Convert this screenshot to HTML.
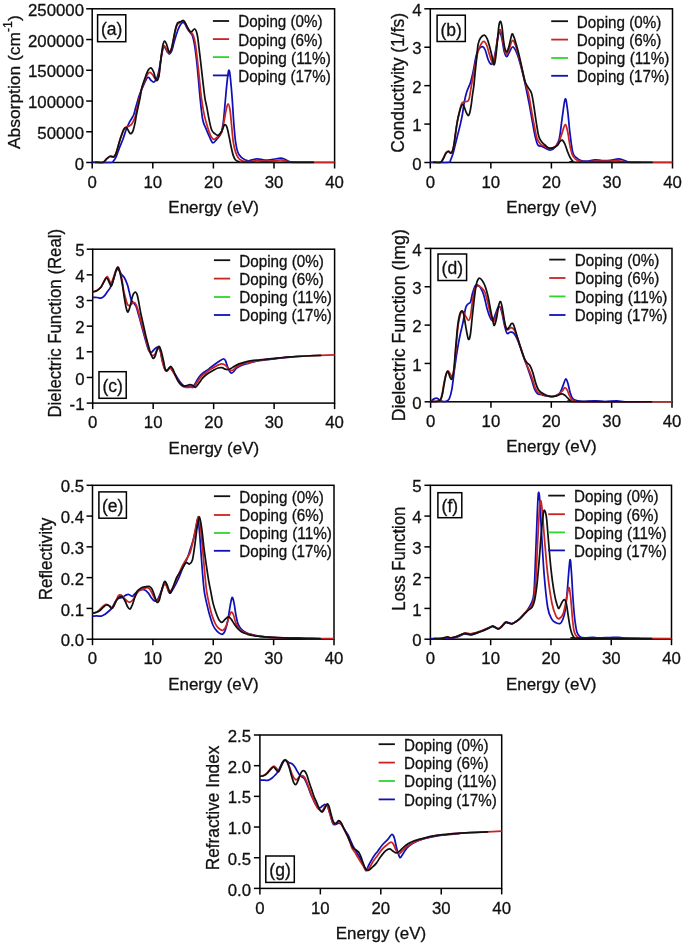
<!DOCTYPE html>
<html><head><meta charset="utf-8"><style>
html,body{margin:0;padding:0;background:#fff;width:685px;height:945px;overflow:hidden}
svg{display:block;will-change:transform;font-family:"Liberation Sans", sans-serif;fill:#000}
text{fill:#111;stroke:#111;stroke-width:0.3px}
</style></head><body>
<svg width="685" height="945" viewBox="0 0 685 945">
<rect width="100%" height="100%" fill="#fff"/>
<g><rect x="92.2" y="8.8" width="242.4" height="153.7" fill="none" stroke="#000" stroke-width="1.5"/><line x1="86.2" y1="162.5" x2="92.2" y2="162.5" stroke="#000" stroke-width="1.5"/><text x="84" y="169.6" text-anchor="end" font-size="16.8">0</text><line x1="86.2" y1="131.76" x2="92.2" y2="131.76" stroke="#000" stroke-width="1.5"/><text x="84" y="138.86" text-anchor="end" font-size="16.8">50000</text><line x1="86.2" y1="101.02" x2="92.2" y2="101.02" stroke="#000" stroke-width="1.5"/><text x="84" y="108.12" text-anchor="end" font-size="16.8">100000</text><line x1="86.2" y1="70.28" x2="92.2" y2="70.28" stroke="#000" stroke-width="1.5"/><text x="84" y="77.38" text-anchor="end" font-size="16.8">150000</text><line x1="86.2" y1="39.54" x2="92.2" y2="39.54" stroke="#000" stroke-width="1.5"/><text x="84" y="46.64" text-anchor="end" font-size="16.8">200000</text><line x1="86.2" y1="8.8" x2="92.2" y2="8.8" stroke="#000" stroke-width="1.5"/><text x="84" y="15.9" text-anchor="end" font-size="16.8">250000</text><line x1="92.2" y1="162.5" x2="92.2" y2="168.5" stroke="#000" stroke-width="1.5"/><text x="92.2" y="187.7" text-anchor="middle" font-size="16.8">0</text><line x1="152.8" y1="162.5" x2="152.8" y2="168.5" stroke="#000" stroke-width="1.5"/><text x="152.8" y="187.7" text-anchor="middle" font-size="16.8">10</text><line x1="213.4" y1="162.5" x2="213.4" y2="168.5" stroke="#000" stroke-width="1.5"/><text x="213.4" y="187.7" text-anchor="middle" font-size="16.8">20</text><line x1="274" y1="162.5" x2="274" y2="168.5" stroke="#000" stroke-width="1.5"/><text x="274" y="187.7" text-anchor="middle" font-size="16.8">30</text><line x1="334.6" y1="162.5" x2="334.6" y2="168.5" stroke="#000" stroke-width="1.5"/><text x="334.6" y="187.7" text-anchor="middle" font-size="16.8">40</text><clipPath id="clipa"><rect x="92.2" y="7.8" width="242.4" height="155.7"/></clipPath><g clip-path="url(#clipa)" fill="none" stroke-width="1.75" stroke-linejoin="round" stroke-linecap="round"><path d="M92.2 162.2C95.25 162.27 106.95 162.82 110.5 162.6C114.05 162.38 112.63 161.73 113.5 160.9C114.37 160.07 114.97 159.08 115.7 157.6C116.43 156.12 117.17 153.92 117.9 152C118.63 150.08 119.23 148.32 120.1 146.1C120.97 143.88 122.1 141.42 123.1 138.7C124.1 135.98 125.12 132.4 126.1 129.8C127.08 127.2 128.02 125.07 129 123.1C129.98 121.13 131.18 119.47 132 118C132.82 116.53 133.28 116.03 133.9 114.3C134.52 112.57 135.08 109.83 135.7 107.6C136.32 105.37 136.98 103 137.6 100.9C138.22 98.8 138.4 97.62 139.4 95C140.4 92.38 142.35 88.02 143.6 85.2C144.85 82.38 146.03 79.37 146.9 78.1C147.77 76.83 148.08 77.2 148.8 77.6C149.52 78 150.4 79.73 151.2 80.5C152 81.27 152.88 82.2 153.6 82.2C154.32 82.2 154.87 81.42 155.5 80.5C156.13 79.58 156.77 78.62 157.4 76.7C158.03 74.78 158.67 72.18 159.3 69C159.93 65.82 160.57 61.08 161.2 57.6C161.83 54.12 162.47 49.77 163.1 48.1C163.73 46.43 164.28 46.97 165 47.6C165.72 48.23 166.68 50.83 167.4 51.9C168.12 52.97 168.58 54.15 169.3 54C170.02 53.85 170.92 52.93 171.7 51C172.48 49.07 173.28 44.95 174 42.4C174.72 39.85 175.28 37.93 176 35.7C176.72 33.47 177.52 30.9 178.3 29C179.08 27.1 179.93 25.4 180.7 24.3C181.47 23.2 182.22 22.48 182.9 22.4C183.58 22.32 184.02 22.7 184.8 23.8C185.58 24.9 186.65 27.48 187.6 29C188.55 30.52 189.7 31.78 190.5 32.9C191.3 34.02 191.77 33.97 192.4 35.7C193.03 37.43 193.75 40.43 194.3 43.3C194.85 46.17 195.23 49.25 195.7 52.9C196.17 56.55 196.63 60.68 197.1 65.2C197.57 69.72 197.97 74.2 198.5 80C199.03 85.8 199.58 93.33 200.3 100C201.02 106.67 201.83 115.18 202.8 120C203.77 124.82 205 126.12 206.1 128.9C207.2 131.68 208.28 134.38 209.4 136.7C210.52 139.02 211.58 142.35 212.8 142.8C214.02 143.25 215.32 140.98 216.7 139.4C218.08 137.82 220 136.17 221.1 133.3C222.2 130.43 222.65 127.02 223.3 122.2C223.95 117.38 224.43 110.5 225 104.4C225.57 98.3 226.15 90.97 226.7 85.6C227.25 80.23 227.85 74.62 228.3 72.2C228.75 69.78 229.02 69.8 229.4 71.1C229.78 72.4 230.13 75.37 230.6 80C231.07 84.63 231.65 91.5 232.2 98.9C232.75 106.3 233.33 117.18 233.9 124.4C234.47 131.62 234.95 137.57 235.6 142.2C236.25 146.83 236.88 149.7 237.8 152.2C238.72 154.7 239.9 155.95 241.1 157.2C242.3 158.45 243.7 159.1 245 159.7C246.3 160.3 246.93 160.95 248.9 160.8C250.87 160.65 254.17 158.93 256.8 158.8C259.43 158.67 262.07 159.9 264.7 160C267.33 160.1 269.97 159.72 272.6 159.4C275.23 159.08 278.53 158.17 280.5 158.1C282.47 158.03 282.87 158.4 284.4 159C285.93 159.6 287.93 161.13 289.7 161.7C291.47 162.27 291.12 162.28 295 162.4C298.88 162.52 310 162.4 313 162.4" stroke="#1010b8"/><path d="M95.6 162.4C96.85 162.4 101.23 163.03 103.1 162.4C104.97 161.77 105.57 159.65 106.8 158.6C108.03 157.55 109.38 156.45 110.5 156.1C111.62 155.75 112.63 156.85 113.5 156.5C114.37 156.15 115.02 155.37 115.7 154C116.38 152.63 116.98 150.35 117.6 148.3C118.22 146.25 118.73 143.92 119.4 141.7C120.07 139.48 120.85 137.12 121.6 135C122.35 132.88 123.1 130.35 123.9 129C124.7 127.65 125.55 127.38 126.4 126.9C127.25 126.42 128.18 126.48 129 126.1C129.82 125.72 130.55 125.47 131.3 124.6C132.05 123.73 132.83 122.25 133.5 120.9C134.17 119.55 134.82 118.1 135.3 116.5C135.78 114.9 135.97 113.28 136.4 111.3C136.83 109.32 137.33 107.07 137.9 104.6C138.47 102.13 139.12 99.27 139.8 96.5C140.48 93.73 141.05 90.98 142 88C142.95 85.02 144.52 80.97 145.5 78.6C146.48 76.23 147.15 74.83 147.9 73.8C148.65 72.77 149.22 72.23 150 72.4C150.78 72.57 151.77 73.77 152.6 74.8C153.43 75.83 154.28 77.73 155 78.6C155.72 79.47 156.27 80.48 156.9 80C157.53 79.52 158.17 78.95 158.8 75.7C159.43 72.45 160.07 64.95 160.7 60.5C161.33 56.05 162 51.47 162.6 49C163.2 46.53 163.67 45.7 164.3 45.7C164.93 45.7 165.73 47.88 166.4 49C167.07 50.12 167.67 51.83 168.3 52.4C168.93 52.97 169.57 53.43 170.2 52.4C170.83 51.37 171.47 48.82 172.1 46.2C172.73 43.58 173.35 39.72 174 36.7C174.65 33.68 175.35 30.25 176 28.1C176.65 25.95 177.12 24.78 177.9 23.8C178.68 22.82 179.8 22.75 180.7 22.2C181.6 21.65 182.55 20.37 183.3 20.5C184.05 20.63 184.48 21.73 185.2 23C185.92 24.27 186.8 26.65 187.6 28.1C188.4 29.55 189.2 30.75 190 31.7C190.8 32.65 191.68 32.65 192.4 33.8C193.12 34.95 193.75 36.53 194.3 38.6C194.85 40.67 195.23 43.03 195.7 46.2C196.17 49.37 196.62 53.47 197.1 57.6C197.58 61.73 198.12 66.4 198.6 71C199.08 75.6 199.48 80.37 200 85.2C200.52 90.03 200.97 94.93 201.7 100C202.43 105.07 203.38 110.97 204.4 115.6C205.42 120.23 206.77 124.47 207.8 127.8C208.83 131.13 209.58 133.67 210.6 135.6C211.62 137.53 212.7 139.22 213.9 139.4C215.1 139.58 216.5 137.9 217.8 136.7C219.1 135.5 220.68 134.62 221.7 132.2C222.72 129.78 223.17 125.9 223.9 122.2C224.63 118.5 225.4 113.05 226.1 110C226.8 106.95 227.45 103.9 228.1 103.9C228.75 103.9 229.4 106.2 230 110C230.6 113.8 231.15 121.33 231.7 126.7C232.25 132.07 232.65 137.95 233.3 142.2C233.95 146.45 234.77 149.6 235.6 152.2C236.43 154.8 237.28 156.4 238.3 157.8C239.32 159.2 240.4 159.95 241.7 160.6C243 161.25 244.25 161.58 246.1 161.7C247.95 161.82 251.02 161.52 252.8 161.3C254.58 161.08 254.82 160.42 256.8 160.4C258.78 160.38 262.07 161.13 264.7 161.2C267.33 161.27 269.97 161 272.6 160.8C275.23 160.6 278.53 160.05 280.5 160C282.47 159.95 282.87 160.18 284.4 160.5C285.93 160.82 287.1 161.58 289.7 161.9C292.3 162.22 292.28 162.32 300 162.4C307.72 162.48 330 162.4 336 162.4" stroke="#c82424"/><path d="M95.6 162.4C96.85 162.4 101.23 163.02 103.1 162.4C104.97 161.78 105.68 159.68 106.8 158.7C107.92 157.72 108.87 156.8 109.8 156.5C110.73 156.2 111.67 156.83 112.4 156.9C113.13 156.97 113.65 157.33 114.2 156.9C114.75 156.47 115.13 155.73 115.7 154.3C116.27 152.87 116.98 150.4 117.6 148.3C118.22 146.2 118.73 143.92 119.4 141.7C120.07 139.48 120.85 137.05 121.6 135C122.35 132.95 123.15 130.63 123.9 129.4C124.65 128.17 125.43 127.53 126.1 127.6C126.77 127.67 127.28 128.88 127.9 129.8C128.52 130.72 129.23 132.48 129.8 133.1C130.37 133.72 130.75 133.92 131.3 133.5C131.85 133.08 132.48 132.33 133.1 130.6C133.72 128.87 134.45 125.7 135 123.1C135.55 120.5 135.85 117.85 136.4 115C136.95 112.15 137.68 108.92 138.3 106C138.92 103.08 139.53 100.48 140.1 97.5C140.67 94.52 140.8 91.57 141.7 88.1C142.6 84.63 144.4 79.72 145.5 76.7C146.6 73.68 147.38 71.47 148.3 70C149.22 68.53 150.12 67.58 151 67.9C151.88 68.22 152.85 70.12 153.6 71.9C154.35 73.68 154.92 77.17 155.5 78.6C156.08 80.03 156.55 80.82 157.1 80.5C157.65 80.18 158.28 79.25 158.8 76.7C159.32 74.15 159.72 69.17 160.2 65.2C160.68 61.23 161.22 56.38 161.7 52.9C162.18 49.42 162.6 46.28 163.1 44.3C163.6 42.32 164.15 41.08 164.7 41C165.25 40.92 165.8 42.3 166.4 43.8C167 45.3 167.73 48.57 168.3 50C168.87 51.43 169.23 52.72 169.8 52.4C170.37 52.08 171.07 50.4 171.7 48.1C172.33 45.8 172.97 41.78 173.6 38.6C174.23 35.42 174.87 31.55 175.5 29C176.13 26.45 176.62 24.48 177.4 23.3C178.18 22.12 179.22 22.33 180.2 21.9C181.18 21.47 182.47 20.53 183.3 20.7C184.13 20.87 184.48 21.75 185.2 22.9C185.92 24.05 186.8 26.18 187.6 27.6C188.4 29.02 189.28 30.77 190 31.4C190.72 32.03 191.18 31.8 191.9 31.4C192.62 31 193.58 29.07 194.3 29C195.02 28.93 195.65 29.72 196.2 31C196.75 32.28 197.13 33.85 197.6 36.7C198.07 39.55 198.52 44.13 199 48.1C199.48 52.07 200.02 56.37 200.5 60.5C200.98 64.63 201.43 68.78 201.9 72.9C202.37 77.02 202.78 80.92 203.3 85.2C203.82 89.48 204.43 95.02 205 98.6C205.57 102.18 205.97 102.95 206.7 106.7C207.43 110.45 208.57 117.22 209.4 121.1C210.23 124.98 210.87 127.97 211.7 130C212.53 132.03 213.3 132.42 214.4 133.3C215.5 134.18 217.08 135.67 218.3 135.3C219.52 134.93 220.68 132.82 221.7 131.1C222.72 129.38 223.57 125.73 224.4 125C225.23 124.27 225.95 124.93 226.7 126.7C227.45 128.47 228.17 132.27 228.9 135.6C229.63 138.93 230.37 143.37 231.1 146.7C231.83 150.03 232.55 153.38 233.3 155.6C234.05 157.82 234.67 158.98 235.6 160C236.53 161.02 237.33 161.32 238.9 161.7C240.47 162.08 232.6 162.18 245 162.3C257.4 162.42 301.92 162.38 313.3 162.4" stroke="#111111"/></g><text x="213.6" y="213" text-anchor="middle" font-size="17" textLength="90.5" lengthAdjust="spacingAndGlyphs">Energy (eV)</text><text transform="translate(20.3 82.15) rotate(-90)" text-anchor="middle" font-size="17.4"><tspan>Absorption (cm</tspan><tspan dy="-8.5" font-size="12.4">-1</tspan><tspan dy="8.5">)</tspan></text><line x1="212.9" y1="21" x2="229.1" y2="21" stroke="#111111" stroke-width="1.8"/><text x="238.2" y="27.4" font-size="16" textLength="84.4" lengthAdjust="spacingAndGlyphs">Doping (0%)</text><line x1="212.9" y1="39.1" x2="229.1" y2="39.1" stroke="#c82424" stroke-width="1.8"/><text x="238.2" y="45.5" font-size="16" textLength="84.4" lengthAdjust="spacingAndGlyphs">Doping (6%)</text><line x1="212.9" y1="57.1" x2="229.1" y2="57.1" stroke="#30d430" stroke-width="1.8"/><text x="238.2" y="63.5" font-size="16" textLength="92.6" lengthAdjust="spacingAndGlyphs">Doping (11%)</text><line x1="212.9" y1="75.4" x2="229.1" y2="75.4" stroke="#1010b8" stroke-width="1.8"/><text x="238.2" y="81.8" font-size="16" textLength="92.6" lengthAdjust="spacingAndGlyphs">Doping (17%)</text><rect x="97.6" y="14.8" width="28.2" height="26.9" fill="#fff" stroke="#000" stroke-width="1.5"/><text x="111.7" y="35.45" text-anchor="middle" font-size="17.5">(a)</text></g>
<g><rect x="430.3" y="8.8" width="242.2" height="153.7" fill="none" stroke="#000" stroke-width="1.5"/><line x1="424.3" y1="162.5" x2="430.3" y2="162.5" stroke="#000" stroke-width="1.5"/><text x="421.6" y="169.6" text-anchor="end" font-size="16.8">0</text><line x1="424.3" y1="124.08" x2="430.3" y2="124.08" stroke="#000" stroke-width="1.5"/><text x="421.6" y="131.18" text-anchor="end" font-size="16.8">1</text><line x1="424.3" y1="85.65" x2="430.3" y2="85.65" stroke="#000" stroke-width="1.5"/><text x="421.6" y="92.75" text-anchor="end" font-size="16.8">2</text><line x1="424.3" y1="47.23" x2="430.3" y2="47.23" stroke="#000" stroke-width="1.5"/><text x="421.6" y="54.33" text-anchor="end" font-size="16.8">3</text><line x1="424.3" y1="8.8" x2="430.3" y2="8.8" stroke="#000" stroke-width="1.5"/><text x="421.6" y="15.9" text-anchor="end" font-size="16.8">4</text><line x1="430.3" y1="162.5" x2="430.3" y2="168.5" stroke="#000" stroke-width="1.5"/><text x="430.3" y="187.7" text-anchor="middle" font-size="16.8">0</text><line x1="490.85" y1="162.5" x2="490.85" y2="168.5" stroke="#000" stroke-width="1.5"/><text x="490.85" y="187.7" text-anchor="middle" font-size="16.8">10</text><line x1="551.4" y1="162.5" x2="551.4" y2="168.5" stroke="#000" stroke-width="1.5"/><text x="551.4" y="187.7" text-anchor="middle" font-size="16.8">20</text><line x1="611.95" y1="162.5" x2="611.95" y2="168.5" stroke="#000" stroke-width="1.5"/><text x="611.95" y="187.7" text-anchor="middle" font-size="16.8">30</text><line x1="672.5" y1="162.5" x2="672.5" y2="168.5" stroke="#000" stroke-width="1.5"/><text x="672.5" y="187.7" text-anchor="middle" font-size="16.8">40</text><clipPath id="clipb"><rect x="430.3" y="7.8" width="242.2" height="155.7"/></clipPath><g clip-path="url(#clipb)" fill="none" stroke-width="1.75" stroke-linejoin="round" stroke-linecap="round"><path d="M430.3 162.4C433.3 162.4 444.92 162.83 448.3 162.4C451.68 161.97 449.82 161.28 450.6 159.8C451.38 158.32 452.2 156.13 453 153.5C453.8 150.87 454.6 147.18 455.4 144C456.2 140.82 457 137.58 457.8 134.4C458.6 131.22 459.42 128.33 460.2 124.9C460.98 121.47 461.82 117.62 462.5 113.8C463.18 109.98 463.6 105.65 464.3 102C465 98.35 465.67 95.17 466.7 91.9C467.73 88.63 469.4 85.88 470.5 82.4C471.6 78.92 472.35 75.45 473.3 71C474.25 66.55 475.25 59.37 476.2 55.7C477.15 52.03 477.97 50.5 479 49C480.03 47.5 481.37 46.53 482.4 46.7C483.43 46.87 484.25 47.87 485.2 50C486.15 52.13 487.22 57.2 488.1 59.5C488.98 61.8 489.7 63.23 490.5 63.8C491.3 64.37 492.12 64.72 492.9 62.9C493.68 61.08 494.42 56.95 495.2 52.9C495.98 48.85 496.88 42.1 497.6 38.6C498.32 35.1 498.78 31.9 499.5 31.9C500.22 31.9 501.1 35.27 501.9 38.6C502.7 41.93 503.5 48.88 504.3 51.9C505.1 54.92 505.92 56.53 506.7 56.7C507.48 56.87 508.02 54.52 509 52.9C509.98 51.28 511.37 47.13 512.6 47C513.83 46.87 515.17 49.45 516.4 52.1C517.63 54.75 518.8 58.73 520 62.9C521.2 67.07 522.53 72.58 523.6 77.1C524.67 81.62 525.45 85.47 526.4 90C527.35 94.53 528.35 99.3 529.3 104.3C530.25 109.3 531.15 114.77 532.1 120C533.05 125.23 534.03 131.53 535 135.7C535.97 139.87 536.72 143.22 537.9 145C539.08 146.78 540.68 145.8 542.1 146.4C543.52 147 544.97 148 546.4 148.6C547.83 149.2 549.15 150.37 550.7 150C552.25 149.63 554.27 148.3 555.7 146.4C557.13 144.5 558.23 143.23 559.3 138.6C560.37 133.97 561.12 125.2 562.1 118.6C563.08 112 564.28 100.37 565.2 99C566.12 97.63 566.82 104.8 567.6 110.4C568.38 116 569.03 125.6 569.9 132.6C570.77 139.6 571.72 148.22 572.8 152.4C573.88 156.58 575.03 156.33 576.4 157.7C577.77 159.07 579.25 160.02 581 160.6C582.75 161.18 584.57 161.33 586.9 161.2C589.23 161.07 592.48 159.9 595 159.8C597.52 159.7 599.47 160.5 602 160.6C604.53 160.7 607.47 160.7 610.2 160.4C612.93 160.1 616.25 158.87 618.4 158.8C620.55 158.73 621.55 159.5 623.1 160C624.65 160.5 626.15 161.42 627.7 161.8C629.25 162.18 630.35 162.2 632.4 162.3C634.45 162.4 638.73 162.38 640 162.4" stroke="#1010b8"/><path d="M433.6 162.4C434.72 162.4 438.78 162.9 440.3 162.4C441.82 161.9 441.77 161.02 442.7 159.4C443.63 157.78 444.97 154.1 445.9 152.7C446.83 151.3 447.52 151 448.3 151C449.08 151 449.95 152.6 450.6 152.7C451.25 152.8 451.67 152.78 452.2 151.6C452.73 150.42 453.27 148.47 453.8 145.6C454.33 142.73 454.87 138.12 455.4 134.4C455.93 130.68 456.4 126.73 457 123.3C457.6 119.87 458.22 117.1 459 113.8C459.78 110.5 460.85 105.48 461.7 103.5C462.55 101.52 463.3 102.23 464.1 101.9C464.9 101.57 465.7 101.9 466.5 101.5C467.3 101.1 468.15 101.73 468.9 99.5C469.65 97.27 470.27 92.22 471 88.1C471.73 83.98 472.52 79.08 473.3 74.8C474.08 70.52 474.98 66.05 475.7 62.4C476.42 58.75 476.8 55.77 477.6 52.9C478.4 50.03 479.47 47.12 480.5 45.2C481.53 43.28 482.77 41.4 483.8 41.4C484.83 41.4 485.83 43.28 486.7 45.2C487.57 47.12 488.22 50.35 489 52.9C489.78 55.45 490.68 58.77 491.4 60.5C492.12 62.23 492.58 64.57 493.3 63.3C494.02 62.03 494.98 57.02 495.7 52.9C496.42 48.78 496.97 42.42 497.6 38.6C498.23 34.78 498.93 31.12 499.5 30C500.07 28.88 500.43 30 501 31.9C501.57 33.8 502.2 38.07 502.9 41.4C503.6 44.73 504.5 49.83 505.2 51.9C505.9 53.97 506.38 54.43 507.1 53.8C507.82 53.17 508.62 50.32 509.5 48.1C510.38 45.88 511.37 40.9 512.4 40.5C513.43 40.1 514.55 42.68 515.7 45.7C516.85 48.72 518.1 54.07 519.3 58.6C520.5 63.13 521.83 68.62 522.9 72.9C523.97 77.18 524.75 80.73 525.7 84.3C526.65 87.87 527.65 90.02 528.6 94.3C529.55 98.58 530.45 104.77 531.4 110C532.35 115.23 533.35 120.93 534.3 125.7C535.25 130.47 536.03 135.5 537.1 138.6C538.17 141.7 539.38 143 540.7 144.3C542.02 145.6 543.57 145.68 545 146.4C546.43 147.12 547.75 148.48 549.3 148.6C550.85 148.72 552.75 148.05 554.3 147.1C555.85 146.15 557.3 145.27 558.6 142.9C559.9 140.53 561 135.95 562.1 132.9C563.2 129.85 564.28 124.85 565.2 124.6C566.12 124.35 566.82 127.93 567.6 131.4C568.38 134.87 569.12 141.52 569.9 145.4C570.68 149.28 571.42 152.47 572.3 154.7C573.18 156.93 573.93 157.72 575.2 158.8C576.47 159.88 578.15 160.7 579.9 161.2C581.65 161.7 583.18 161.8 585.7 161.8C588.22 161.8 591.12 161.3 595 161.2C598.88 161.1 605.5 161.3 609 161.2C612.5 161.1 613.27 160.5 616 160.6C618.73 160.7 623.07 161.52 625.4 161.8C627.73 162.08 621.9 162.2 630 162.3C638.1 162.4 666.67 162.38 674 162.4" stroke="#c82424"/><path d="M433.6 162.4C434.72 162.4 438.78 162.83 440.3 162.4C441.82 161.97 441.77 161.28 442.7 159.8C443.63 158.32 444.97 154.88 445.9 153.5C446.83 152.12 447.52 151.57 448.3 151.5C449.08 151.43 449.95 153.03 450.6 153.1C451.25 153.17 451.67 153.15 452.2 151.9C452.73 150.65 453.27 148.52 453.8 145.6C454.33 142.68 454.87 138.12 455.4 134.4C455.93 130.68 456.4 126.73 457 123.3C457.6 119.87 458.33 116.57 459 113.8C459.67 111.03 460.42 108.28 461 106.7C461.58 105.12 461.98 104.3 462.5 104.3C463.02 104.3 463.5 105.38 464.1 106.7C464.7 108.02 465.43 110.72 466.1 112.2C466.77 113.68 467.5 115.47 468.1 115.6C468.7 115.73 469.17 114.88 469.7 113C470.23 111.12 470.83 107.33 471.3 104.3C471.77 101.27 472.08 97.82 472.5 94.8C472.92 91.78 473.35 90.02 473.8 86.2C474.25 82.38 474.72 76.67 475.2 71.9C475.68 67.13 476.22 62.2 476.7 57.6C477.18 53 477.47 47.55 478.1 44.3C478.73 41.05 479.47 39.62 480.5 38.1C481.53 36.58 483.2 35.12 484.3 35.2C485.4 35.28 486.23 36.77 487.1 38.6C487.97 40.43 488.7 43.35 489.5 46.2C490.3 49.05 491.18 52.6 491.9 55.7C492.62 58.8 493.17 64.48 493.8 64.8C494.43 65.12 495.07 61.97 495.7 57.6C496.33 53.23 497.05 44 497.6 38.6C498.15 33.2 498.52 28.07 499 25.2C499.48 22.33 500.02 21.23 500.5 21.4C500.98 21.57 501.43 23.33 501.9 26.2C502.37 29.07 502.82 34.95 503.3 38.6C503.78 42.25 504.23 45.88 504.8 48.1C505.37 50.32 506 52.22 506.7 51.9C507.4 51.58 508.13 49.13 509 46.2C509.87 43.27 511.1 35.88 511.9 34.3C512.7 32.72 513.08 35.03 513.8 36.7C514.52 38.37 515.37 41.42 516.2 44.3C517.03 47.18 517.82 49.95 518.8 54C519.78 58.05 521.07 64.03 522.1 68.6C523.13 73.17 524.03 78.32 525 81.4C525.97 84.48 526.83 85.18 527.9 87.1C528.97 89.02 530.45 90.03 531.4 92.9C532.35 95.77 532.88 100.02 533.6 104.3C534.32 108.58 534.87 113.37 535.7 118.6C536.53 123.83 537.65 131.9 538.6 135.7C539.55 139.5 540.33 139.85 541.4 141.4C542.47 142.95 543.8 143.92 545 145C546.2 146.08 547.28 147.42 548.6 147.9C549.92 148.38 551.48 148.27 552.9 147.9C554.32 147.53 555.92 146.77 557.1 145.7C558.28 144.63 559.13 142.43 560 141.5C560.87 140.57 561.52 139.75 562.3 140.1C563.08 140.45 563.92 141.93 564.7 143.6C565.48 145.27 566.13 147.85 567 150.1C567.87 152.35 568.93 155.25 569.9 157.1C570.87 158.95 571.72 160.33 572.8 161.2C573.88 162.07 563.2 162.1 576.4 162.3C589.6 162.5 639.4 162.38 652 162.4" stroke="#111111"/></g><text x="551.6" y="213" text-anchor="middle" font-size="17" textLength="90.5" lengthAdjust="spacingAndGlyphs">Energy (eV)</text><text transform="translate(404.3 82.85) rotate(-90)" text-anchor="middle" font-size="17.5" textLength="139.8" lengthAdjust="spacingAndGlyphs">Conductivity (1/fs)</text><line x1="551.2" y1="21.2" x2="568" y2="21.2" stroke="#111111" stroke-width="1.8"/><text x="576.8" y="27.6" font-size="16" textLength="84.4" lengthAdjust="spacingAndGlyphs">Doping (0%)</text><line x1="551.2" y1="39.6" x2="568" y2="39.6" stroke="#c82424" stroke-width="1.8"/><text x="576.8" y="46" font-size="16" textLength="84.4" lengthAdjust="spacingAndGlyphs">Doping (6%)</text><line x1="551.2" y1="58" x2="568" y2="58" stroke="#30d430" stroke-width="1.8"/><text x="576.8" y="64.4" font-size="16" textLength="92.6" lengthAdjust="spacingAndGlyphs">Doping (11%)</text><line x1="551.2" y1="75.8" x2="568" y2="75.8" stroke="#1010b8" stroke-width="1.8"/><text x="576.8" y="82.2" font-size="16" textLength="92.6" lengthAdjust="spacingAndGlyphs">Doping (17%)</text><rect x="437.1" y="15.2" width="28.2" height="26.3" fill="#fff" stroke="#000" stroke-width="1.5"/><text x="451.2" y="35.55" text-anchor="middle" font-size="17.5">(b)</text></g>
<g><rect x="92.7" y="249.2" width="241.9" height="153.9" fill="none" stroke="#000" stroke-width="1.5"/><line x1="86.7" y1="403.1" x2="92.7" y2="403.1" stroke="#000" stroke-width="1.5"/><text x="84.5" y="410.2" text-anchor="end" font-size="16.8">-1</text><line x1="86.7" y1="377.45" x2="92.7" y2="377.45" stroke="#000" stroke-width="1.5"/><text x="84.5" y="384.55" text-anchor="end" font-size="16.8">0</text><line x1="86.7" y1="351.8" x2="92.7" y2="351.8" stroke="#000" stroke-width="1.5"/><text x="84.5" y="358.9" text-anchor="end" font-size="16.8">1</text><line x1="86.7" y1="326.15" x2="92.7" y2="326.15" stroke="#000" stroke-width="1.5"/><text x="84.5" y="333.25" text-anchor="end" font-size="16.8">2</text><line x1="86.7" y1="300.5" x2="92.7" y2="300.5" stroke="#000" stroke-width="1.5"/><text x="84.5" y="307.6" text-anchor="end" font-size="16.8">3</text><line x1="86.7" y1="274.85" x2="92.7" y2="274.85" stroke="#000" stroke-width="1.5"/><text x="84.5" y="281.95" text-anchor="end" font-size="16.8">4</text><line x1="86.7" y1="249.2" x2="92.7" y2="249.2" stroke="#000" stroke-width="1.5"/><text x="84.5" y="256.3" text-anchor="end" font-size="16.8">5</text><line x1="92.7" y1="403.1" x2="92.7" y2="409.1" stroke="#000" stroke-width="1.5"/><text x="92.7" y="428.3" text-anchor="middle" font-size="16.8">0</text><line x1="153.18" y1="403.1" x2="153.18" y2="409.1" stroke="#000" stroke-width="1.5"/><text x="153.18" y="428.3" text-anchor="middle" font-size="16.8">10</text><line x1="213.65" y1="403.1" x2="213.65" y2="409.1" stroke="#000" stroke-width="1.5"/><text x="213.65" y="428.3" text-anchor="middle" font-size="16.8">20</text><line x1="274.12" y1="403.1" x2="274.12" y2="409.1" stroke="#000" stroke-width="1.5"/><text x="274.12" y="428.3" text-anchor="middle" font-size="16.8">30</text><line x1="334.6" y1="403.1" x2="334.6" y2="409.1" stroke="#000" stroke-width="1.5"/><text x="334.6" y="428.3" text-anchor="middle" font-size="16.8">40</text><clipPath id="clipc"><rect x="92.7" y="248.2" width="241.9" height="155.9"/></clipPath><g clip-path="url(#clipc)" fill="none" stroke-width="1.75" stroke-linejoin="round" stroke-linecap="round"><path d="M92.7 297.5C93.43 297.5 95.73 297.4 97.1 297.5C98.47 297.6 99.73 298.32 100.9 298.1C102.07 297.88 103.03 297.25 104.1 296.2C105.17 295.15 106.25 293.28 107.3 291.8C108.35 290.32 109.35 289.42 110.4 287.3C111.45 285.18 112.63 281.95 113.6 279.1C114.57 276.25 115.35 271.72 116.2 270.2C117.05 268.68 117.87 269.37 118.7 270C119.53 270.63 120.25 272.7 121.2 274C122.15 275.3 123.35 275.97 124.4 277.8C125.45 279.63 126.7 282.67 127.5 285C128.3 287.33 128.55 289.25 129.2 291.8C129.85 294.35 130.68 298.47 131.4 300.3C132.12 302.13 132.73 301.82 133.5 302.8C134.27 303.78 135.15 304.22 136 306.2C136.85 308.18 137.75 311.73 138.6 314.7C139.45 317.67 140.27 320.9 141.1 324C141.93 327.1 142.75 330.2 143.6 333.3C144.45 336.4 145.35 339.77 146.2 342.6C147.05 345.43 147.85 348.67 148.7 350.3C149.55 351.93 150.38 352.55 151.3 352.4C152.22 352.25 153.28 350.25 154.2 349.4C155.12 348.55 156.02 347.52 156.8 347.3C157.58 347.08 158.27 347.32 158.9 348.1C159.53 348.88 160.03 349.97 160.6 352C161.17 354.03 161.57 357.47 162.3 360.3C163.03 363.13 164.12 367.4 165 369C165.88 370.6 166.73 370.12 167.6 369.9C168.47 369.68 169.25 367.4 170.2 367.7C171.15 368 172.2 370.17 173.3 371.7C174.4 373.23 175.63 375.15 176.8 376.9C177.97 378.65 179.13 380.73 180.3 382.2C181.47 383.67 182.63 384.97 183.8 385.7C184.97 386.43 186.13 386.5 187.3 386.6C188.47 386.7 189.77 386.38 190.8 386.3C191.83 386.22 192.57 386.92 193.5 386.1C194.43 385.28 195.43 382.97 196.4 381.4C197.37 379.83 198.23 378.07 199.3 376.7C200.37 375.33 201.23 374.47 202.8 373.2C204.37 371.93 206.75 370.55 208.7 369.1C210.65 367.65 212.55 365.95 214.5 364.5C216.45 363.05 218.83 361.32 220.4 360.4C221.97 359.48 223.03 358.9 223.9 359C224.77 359.1 225.02 359.8 225.6 361C226.18 362.2 226.72 364.45 227.4 366.2C228.08 367.95 229.02 370.33 229.7 371.5C230.38 372.67 230.82 373.2 231.5 373.2C232.18 373.2 232.93 372.37 233.8 371.5C234.67 370.63 235.23 369.08 236.7 368C238.17 366.92 240.65 365.78 242.6 365C244.55 364.22 246.47 363.85 248.4 363.3C250.33 362.75 252.27 362.17 254.2 361.7C256.13 361.23 257.08 360.93 260 360.5C262.92 360.07 266.7 359.65 271.7 359.1C276.7 358.55 286.95 357.52 290 357.2" stroke="#1010b8"/><path d="M92.7 292C93.43 291.75 95.73 291.28 97.1 290.5C98.47 289.72 99.73 288.88 100.9 287.3C102.07 285.72 103.08 282.8 104.1 281C105.12 279.2 106.15 276.67 107 276.5C107.85 276.33 108.52 278.83 109.2 280C109.88 281.17 110.37 284 111.1 283.5C111.83 283 112.75 279.33 113.6 277C114.45 274.67 115.45 271.17 116.2 269.5C116.95 267.83 117.47 266.58 118.1 267C118.73 267.42 119.37 269.98 120 272C120.63 274.02 121.32 276.1 121.9 279.1C122.48 282.1 122.98 287.18 123.5 290C124.02 292.82 124.33 293.58 125 296C125.67 298.42 126.65 302.95 127.5 304.5C128.35 306.05 129.17 305.58 130.1 305.3C131.03 305.02 132.25 303.15 133.1 302.8C133.95 302.45 134.5 302.35 135.2 303.2C135.9 304.05 136.6 305.85 137.3 307.9C138 309.95 138.63 312.68 139.4 315.5C140.17 318.32 141.05 321.68 141.9 324.8C142.75 327.92 143.65 331.08 144.5 334.2C145.35 337.32 146.15 340.55 147 343.5C147.85 346.45 148.75 349.93 149.6 351.9C150.45 353.87 151.25 354.87 152.1 355.3C152.95 355.73 153.92 355.33 154.7 354.5C155.48 353.67 156.1 351.43 156.8 350.3C157.5 349.17 158.27 347.42 158.9 347.7C159.53 347.98 160.03 349.75 160.6 352C161.17 354.25 161.57 358.22 162.3 361.2C163.03 364.18 164.18 368.3 165 369.9C165.82 371.5 166.4 371.17 167.2 370.8C168 370.43 168.93 367.7 169.8 367.7C170.67 367.7 171.38 369.27 172.4 370.8C173.42 372.33 174.73 374.85 175.9 376.9C177.07 378.95 178.23 381.48 179.4 383.1C180.57 384.72 181.73 385.88 182.9 386.6C184.07 387.32 185.08 387.3 186.4 387.4C187.72 387.5 189.62 387.23 190.8 387.2C191.98 387.17 192.47 387.97 193.5 387.2C194.53 386.43 195.83 384.25 197 382.6C198.17 380.95 199.13 378.87 200.5 377.3C201.87 375.73 203.45 374.57 205.2 373.2C206.95 371.83 209.05 370.37 211 369.1C212.95 367.83 215.15 366.47 216.9 365.6C218.65 364.73 220.15 364 221.5 363.9C222.85 363.8 224.02 364.42 225 365C225.98 365.58 226.52 366.52 227.4 367.4C228.28 368.28 229.43 369.82 230.3 370.3C231.17 370.78 231.53 370.88 232.6 370.3C233.67 369.72 235.03 367.87 236.7 366.8C238.37 365.73 240.65 364.57 242.6 363.9C244.55 363.23 246.5 363.22 248.4 362.8C250.3 362.38 252.07 361.82 254 361.4C255.93 360.98 257.05 360.72 260 360.3C262.95 359.88 267.8 359.37 271.7 358.9C275.6 358.43 279.52 357.87 283.4 357.5C287.28 357.13 291.12 356.95 295 356.7C298.88 356.45 302.42 356.22 306.7 356C310.98 355.78 315.82 355.6 320.7 355.4C325.58 355.2 333.45 354.9 336 354.8" stroke="#c82424"/><path d="M92.7 292C93.43 291.75 95.73 291.28 97.1 290.5C98.47 289.72 99.73 288.78 100.9 287.3C102.07 285.82 103.15 283.18 104.1 281.6C105.05 280.02 105.75 277.7 106.6 277.8C107.45 277.9 108.42 280.82 109.2 282.2C109.98 283.58 110.57 286.62 111.3 286.1C112.03 285.58 112.78 281.75 113.6 279.1C114.42 276.45 115.45 272.12 116.2 270.2C116.95 268.28 117.47 267.18 118.1 267.6C118.73 268.02 119.27 269.73 120 272.7C120.73 275.67 121.77 281.17 122.5 285.4C123.23 289.63 123.77 294.28 124.4 298.1C125.03 301.92 125.7 305.97 126.3 308.3C126.9 310.63 127.37 312.45 128 312.1C128.63 311.75 129.33 308.88 130.1 306.2C130.87 303.52 131.75 298.33 132.6 296C133.45 293.67 134.42 292.33 135.2 292.2C135.98 292.07 136.67 293.3 137.3 295.2C137.93 297.1 138.43 300.63 139 303.6C139.57 306.57 140.13 310.17 140.7 313C141.27 315.83 141.83 318.07 142.4 320.6C142.97 323.13 143.47 325.38 144.1 328.2C144.73 331.02 145.5 334.67 146.2 337.5C146.9 340.33 147.6 342.65 148.3 345.2C149 347.75 149.62 350.62 150.4 352.8C151.18 354.98 152.22 357.73 153 358.3C153.78 358.87 154.4 357.68 155.1 356.2C155.8 354.72 156.5 351.03 157.2 349.4C157.9 347.77 158.6 345.97 159.3 346.4C160 346.83 160.68 349.52 161.4 352C162.12 354.48 163 358.55 163.6 361.3C164.2 364.05 164.52 366.88 165 368.5C165.48 370.12 165.92 370.92 166.5 371C167.08 371.08 167.8 369.77 168.5 369C169.2 368.23 169.98 366.4 170.7 366.4C171.42 366.4 172.08 367.68 172.8 369C173.52 370.32 174.18 372.4 175 374.3C175.82 376.2 176.82 378.8 177.7 380.4C178.58 382 179.35 382.95 180.3 383.9C181.25 384.85 182.38 385.8 183.4 386.1C184.42 386.4 185.32 385.95 186.4 385.7C187.48 385.45 188.87 384.67 189.9 384.6C190.93 384.53 191.67 384.87 192.6 385.3C193.53 385.73 194.38 387.65 195.5 387.2C196.62 386.75 198.08 384.15 199.3 382.6C200.52 381.05 201.43 379.37 202.8 377.9C204.17 376.43 205.73 375.07 207.5 373.8C209.27 372.53 211.65 371.27 213.4 370.3C215.15 369.33 216.55 368.45 218 368C219.45 367.55 220.93 367.42 222.1 367.6C223.27 367.78 224.02 368.78 225 369.1C225.98 369.42 227.02 369.6 228 369.5C228.98 369.4 229.83 369.05 230.9 368.5C231.97 367.95 233.05 366.97 234.4 366.2C235.75 365.43 237.25 364.58 239 363.9C240.75 363.22 242.75 362.65 244.9 362.1C247.05 361.55 249.38 360.97 251.9 360.6C254.42 360.23 256.7 360.22 260 359.9C263.3 359.58 267.8 359.1 271.7 358.7C275.6 358.3 279.52 357.83 283.4 357.5C287.28 357.17 291.12 356.95 295 356.7C298.88 356.45 302.42 356.22 306.7 356C310.98 355.78 318.37 355.5 320.7 355.4" stroke="#111111"/></g><text x="213.85" y="453.6" text-anchor="middle" font-size="17" textLength="90.5" lengthAdjust="spacingAndGlyphs">Energy (eV)</text><text transform="translate(60.5 323.2) rotate(-90)" text-anchor="middle" font-size="17.5" textLength="188.7" lengthAdjust="spacingAndGlyphs">Dielectric Function (Real)</text><line x1="213.9" y1="260.2" x2="230.2" y2="260.2" stroke="#111111" stroke-width="1.8"/><text x="239.3" y="266.6" font-size="16" textLength="84.4" lengthAdjust="spacingAndGlyphs">Doping (0%)</text><line x1="213.9" y1="278.6" x2="230.2" y2="278.6" stroke="#c82424" stroke-width="1.8"/><text x="239.3" y="285" font-size="16" textLength="84.4" lengthAdjust="spacingAndGlyphs">Doping (6%)</text><line x1="213.9" y1="297" x2="230.2" y2="297" stroke="#30d430" stroke-width="1.8"/><text x="239.3" y="303.4" font-size="16" textLength="92.6" lengthAdjust="spacingAndGlyphs">Doping (11%)</text><line x1="213.9" y1="315" x2="230.2" y2="315" stroke="#1010b8" stroke-width="1.8"/><text x="239.3" y="321.4" font-size="16" textLength="92.6" lengthAdjust="spacingAndGlyphs">Doping (17%)</text><rect x="99" y="371.7" width="27.2" height="26.6" fill="#fff" stroke="#000" stroke-width="1.5"/><text x="112.6" y="392.2" text-anchor="middle" font-size="17.5">(c)</text></g>
<g><rect x="430.6" y="248.4" width="241.4" height="153.4" fill="none" stroke="#000" stroke-width="1.5"/><line x1="424.6" y1="401.8" x2="430.6" y2="401.8" stroke="#000" stroke-width="1.5"/><text x="421.6" y="408.9" text-anchor="end" font-size="16.8">0</text><line x1="424.6" y1="363.45" x2="430.6" y2="363.45" stroke="#000" stroke-width="1.5"/><text x="421.6" y="370.55" text-anchor="end" font-size="16.8">1</text><line x1="424.6" y1="325.1" x2="430.6" y2="325.1" stroke="#000" stroke-width="1.5"/><text x="421.6" y="332.2" text-anchor="end" font-size="16.8">2</text><line x1="424.6" y1="286.75" x2="430.6" y2="286.75" stroke="#000" stroke-width="1.5"/><text x="421.6" y="293.85" text-anchor="end" font-size="16.8">3</text><line x1="424.6" y1="248.4" x2="430.6" y2="248.4" stroke="#000" stroke-width="1.5"/><text x="421.6" y="255.5" text-anchor="end" font-size="16.8">4</text><line x1="430.6" y1="401.8" x2="430.6" y2="407.8" stroke="#000" stroke-width="1.5"/><text x="430.6" y="427" text-anchor="middle" font-size="16.8">0</text><line x1="490.95" y1="401.8" x2="490.95" y2="407.8" stroke="#000" stroke-width="1.5"/><text x="490.95" y="427" text-anchor="middle" font-size="16.8">10</text><line x1="551.3" y1="401.8" x2="551.3" y2="407.8" stroke="#000" stroke-width="1.5"/><text x="551.3" y="427" text-anchor="middle" font-size="16.8">20</text><line x1="611.65" y1="401.8" x2="611.65" y2="407.8" stroke="#000" stroke-width="1.5"/><text x="611.65" y="427" text-anchor="middle" font-size="16.8">30</text><line x1="672" y1="401.8" x2="672" y2="407.8" stroke="#000" stroke-width="1.5"/><text x="672" y="427" text-anchor="middle" font-size="16.8">40</text><clipPath id="clipd"><rect x="430.6" y="247.4" width="241.4" height="155.4"/></clipPath><g clip-path="url(#clipd)" fill="none" stroke-width="1.75" stroke-linejoin="round" stroke-linecap="round"><path d="M430.6 401.6C431.17 401.15 432.88 399.45 434 398.9C435.12 398.35 436.2 397.97 437.3 398.3C438.4 398.63 439.17 400.4 440.6 400.9C442.03 401.4 444.47 401.63 445.9 401.3C447.33 400.97 448.22 400.83 449.2 398.9C450.18 396.97 450.93 394.53 451.8 389.7C452.67 384.87 453.52 376.28 454.4 369.9C455.28 363.52 456.22 356.92 457.1 351.4C457.98 345.88 458.72 341.65 459.7 336.8C460.68 331.95 462 327.13 463 322.3C464 317.47 464.82 310.88 465.7 307.8C466.58 304.72 467.5 304.77 468.3 303.8C469.1 302.83 469.78 303.78 470.5 302C471.22 300.22 471.8 295.82 472.6 293.1C473.4 290.38 474.42 287.02 475.3 285.7C476.18 284.38 477.02 284.85 477.9 285.2C478.78 285.55 479.62 286.13 480.6 287.8C481.58 289.47 482.75 291.85 483.8 295.2C484.85 298.55 485.85 304.2 486.9 307.9C487.95 311.6 489.12 315.28 490.1 317.4C491.08 319.52 491.92 321.12 492.8 320.6C493.68 320.08 494.53 316.5 495.4 314.3C496.27 312.1 497.2 308.55 498 307.4C498.8 306.25 499.48 306.25 500.2 307.4C500.92 308.55 501.6 311.4 502.3 314.3C503 317.2 503.62 321.63 504.4 324.8C505.18 327.97 506.03 332.07 507 333.3C507.97 334.53 509.12 332.28 510.2 332.2C511.28 332.12 512.37 331.72 513.5 332.8C514.63 333.88 515.73 335.97 517 338.7C518.27 341.43 519.83 345.7 521.1 349.2C522.37 352.7 523.43 356.38 524.6 359.7C525.77 363.02 526.93 365.78 528.1 369.1C529.27 372.42 530.53 376.3 531.6 379.6C532.67 382.9 533.53 386.57 534.5 388.9C535.47 391.23 536.23 392.63 537.4 393.6C538.57 394.57 540.03 394.32 541.5 394.7C542.97 395.08 544.45 395.6 546.2 395.9C547.95 396.2 550.25 396.6 552 396.5C553.75 396.4 555.33 395.98 556.7 395.3C558.07 394.62 559.13 394.05 560.2 392.4C561.27 390.75 562.18 387.63 563.1 385.4C564.02 383.17 564.92 379.38 565.7 379C566.48 378.62 567.07 380.87 567.8 383.1C568.53 385.33 569.32 389.88 570.1 392.4C570.88 394.92 571.42 396.83 572.5 398.2C573.58 399.57 574.95 400.07 576.6 400.6C578.25 401.13 579.33 401.37 582.4 401.4C585.47 401.43 591.23 400.78 595 400.8C598.77 400.82 601.33 401.5 605 401.5C608.67 401.5 613.67 400.75 617 400.8C620.33 400.85 621.17 401.63 625 401.8C628.83 401.97 637.5 401.8 640 401.8" stroke="#1010b8"/><path d="M430.6 401.6C432.05 401.48 437.42 402 439.3 400.9C441.18 399.8 441.03 398.42 441.9 395C442.77 391.58 443.52 384.37 444.5 380.4C445.48 376.43 446.8 372.18 447.8 371.2C448.8 370.22 449.72 373.62 450.5 374.5C451.28 375.38 451.85 377.72 452.5 376.5C453.15 375.28 453.75 372.72 454.4 367.2C455.05 361.68 455.73 350.67 456.4 343.4C457.07 336.13 457.52 328.98 458.4 323.6C459.28 318.22 460.6 312.53 461.7 311.1C462.8 309.67 463.9 313.47 465 315C466.1 316.53 467.38 320.13 468.3 320.3C469.22 320.47 469.78 319.3 470.5 316C471.22 312.7 471.8 305.2 472.6 300.5C473.4 295.8 474.32 290.18 475.3 287.8C476.28 285.42 477.45 286.2 478.5 286.2C479.55 286.2 480.55 286.83 481.6 287.8C482.65 288.77 483.82 289.7 484.8 292C485.78 294.3 486.53 297.88 487.5 301.6C488.47 305.32 489.63 310.95 490.6 314.3C491.57 317.65 492.42 321.35 493.3 321.7C494.18 322.05 495.12 318.52 495.9 316.4C496.68 314.28 497.28 310.58 498 309C498.72 307.42 499.48 306.38 500.2 306.9C500.92 307.42 501.6 309.47 502.3 312.1C503 314.73 503.62 319.78 504.4 322.7C505.18 325.62 506.12 328.63 507 329.6C507.88 330.57 508.95 328.83 509.7 328.5C510.45 328.17 510.67 327.27 511.5 327.6C512.33 327.93 513.58 328.45 514.7 330.5C515.82 332.55 517.03 336.58 518.2 339.9C519.37 343.22 520.53 346.9 521.7 350.4C522.87 353.9 524.03 357.78 525.2 360.9C526.37 364.02 527.53 366.18 528.7 369.1C529.87 372.02 531.13 375.3 532.2 378.4C533.27 381.5 534.13 385.37 535.1 387.7C536.07 390.03 536.83 391.32 538 392.4C539.17 393.48 540.53 393.62 542.1 394.2C543.67 394.78 545.55 395.52 547.4 395.9C549.25 396.28 551.45 396.7 553.2 396.5C554.95 396.3 556.43 395.58 557.9 394.7C559.37 393.82 560.83 392.37 562 391.2C563.17 390.03 564.03 387.88 564.9 387.7C565.77 387.52 566.42 388.73 567.2 390.1C567.98 391.47 568.82 394.35 569.6 395.9C570.38 397.45 570.93 398.52 571.9 399.4C572.87 400.28 573.65 400.8 575.4 401.2C577.15 401.6 565.97 401.7 582.4 401.8C598.83 401.9 658.73 401.8 674 401.8" stroke="#c82424"/><path d="M430.6 401.6C432.05 401.48 437.42 401.78 439.3 400.9C441.18 400.02 441.13 398.83 441.9 396.3C442.67 393.77 443.23 389.23 443.9 385.7C444.57 382.17 445.25 377.52 445.9 375.1C446.55 372.68 447.15 370.97 447.8 371.2C448.45 371.43 449.13 375.18 449.8 376.5C450.47 377.82 451.13 380.2 451.8 379.1C452.47 378 453.13 375.4 453.8 369.9C454.47 364.4 455.13 353.6 455.8 346.1C456.47 338.6 457.15 330.18 457.8 324.9C458.45 319.62 459.05 316.7 459.7 314.4C460.35 312.1 461.03 311.1 461.7 311.1C462.37 311.1 463.03 311.87 463.7 314.4C464.37 316.93 464.93 322.2 465.7 326.3C466.47 330.4 467.53 337.55 468.3 339C469.07 340.45 469.67 338.42 470.3 335C470.93 331.58 471.45 324.43 472.1 318.5C472.75 312.57 473.5 305.05 474.2 299.4C474.9 293.75 475.5 288.12 476.3 284.6C477.1 281.08 478.02 279 479 278.3C479.98 277.6 481.15 279 482.2 280.4C483.25 281.8 484.33 284.05 485.3 286.7C486.27 289.35 487.12 292.42 488 296.3C488.88 300.18 489.8 305.95 490.6 310C491.4 314.05 492.18 318.03 492.8 320.6C493.42 323.17 493.68 325.75 494.3 325.4C494.92 325.05 495.78 321.77 496.5 318.5C497.22 315.23 497.93 308.62 498.6 305.8C499.27 302.98 499.88 301.25 500.5 301.6C501.12 301.95 501.65 304.73 502.3 307.9C502.95 311.07 503.7 317.07 504.4 320.6C505.1 324.13 505.7 328.03 506.5 329.1C507.3 330.17 508.37 327.92 509.2 327C510.03 326.08 510.78 323.98 511.5 323.6C512.22 323.22 512.68 322.97 513.5 324.7C514.32 326.43 515.33 330.5 516.4 334C517.47 337.5 518.73 342 519.9 345.7C521.07 349.4 522.32 353.48 523.4 356.2C524.48 358.92 525.32 360.45 526.4 362C527.48 363.55 528.83 363.73 529.9 365.5C530.97 367.27 531.83 369.67 532.8 372.6C533.77 375.53 534.73 380.18 535.7 383.1C536.67 386.02 537.53 388.45 538.6 390.1C539.67 391.75 540.83 392.13 542.1 393C543.37 393.87 544.73 394.72 546.2 395.3C547.67 395.88 549.15 396.4 550.9 396.5C552.65 396.6 554.95 396.35 556.7 395.9C558.45 395.45 560.03 393.9 561.4 393.8C562.77 393.7 563.83 394.57 564.9 395.3C565.97 396.03 566.83 397.32 567.8 398.2C568.77 399.08 569.63 400.03 570.7 400.6C571.77 401.17 560.73 401.4 574.2 401.6C587.67 401.8 638.62 401.77 651.5 401.8" stroke="#111111"/></g><text x="551.5" y="452.3" text-anchor="middle" font-size="17" textLength="90.5" lengthAdjust="spacingAndGlyphs">Energy (eV)</text><text transform="translate(404.9 325.25) rotate(-90)" text-anchor="middle" font-size="17.5" textLength="192.2" lengthAdjust="spacingAndGlyphs">Dielectric Function (Img)</text><line x1="549.2" y1="259.6" x2="565.5" y2="259.6" stroke="#111111" stroke-width="1.8"/><text x="574.8" y="266" font-size="16" textLength="84.4" lengthAdjust="spacingAndGlyphs">Doping (0%)</text><line x1="549.2" y1="278" x2="565.5" y2="278" stroke="#c82424" stroke-width="1.8"/><text x="574.8" y="284.4" font-size="16" textLength="84.4" lengthAdjust="spacingAndGlyphs">Doping (6%)</text><line x1="549.2" y1="296.4" x2="565.5" y2="296.4" stroke="#30d430" stroke-width="1.8"/><text x="574.8" y="302.8" font-size="16" textLength="92.6" lengthAdjust="spacingAndGlyphs">Doping (11%)</text><line x1="549.2" y1="315" x2="565.5" y2="315" stroke="#1010b8" stroke-width="1.8"/><text x="574.8" y="321.4" font-size="16" textLength="92.6" lengthAdjust="spacingAndGlyphs">Doping (17%)</text><rect x="438" y="254" width="28.6" height="26.5" fill="#fff" stroke="#000" stroke-width="1.5"/><text x="452.3" y="274.45" text-anchor="middle" font-size="17.5">(d)</text></g>
<g><rect x="92.5" y="485.3" width="241.5" height="153.9" fill="none" stroke="#000" stroke-width="1.5"/><line x1="86.5" y1="639.2" x2="92.5" y2="639.2" stroke="#000" stroke-width="1.5"/><text x="84" y="646.3" text-anchor="end" font-size="16.8">0.0</text><line x1="86.5" y1="608.42" x2="92.5" y2="608.42" stroke="#000" stroke-width="1.5"/><text x="84" y="615.52" text-anchor="end" font-size="16.8">0.1</text><line x1="86.5" y1="577.64" x2="92.5" y2="577.64" stroke="#000" stroke-width="1.5"/><text x="84" y="584.74" text-anchor="end" font-size="16.8">0.2</text><line x1="86.5" y1="546.86" x2="92.5" y2="546.86" stroke="#000" stroke-width="1.5"/><text x="84" y="553.96" text-anchor="end" font-size="16.8">0.3</text><line x1="86.5" y1="516.08" x2="92.5" y2="516.08" stroke="#000" stroke-width="1.5"/><text x="84" y="523.18" text-anchor="end" font-size="16.8">0.4</text><line x1="86.5" y1="485.3" x2="92.5" y2="485.3" stroke="#000" stroke-width="1.5"/><text x="84" y="492.4" text-anchor="end" font-size="16.8">0.5</text><line x1="92.5" y1="639.2" x2="92.5" y2="645.2" stroke="#000" stroke-width="1.5"/><text x="92.5" y="664.4" text-anchor="middle" font-size="16.8">0</text><line x1="152.88" y1="639.2" x2="152.88" y2="645.2" stroke="#000" stroke-width="1.5"/><text x="152.88" y="664.4" text-anchor="middle" font-size="16.8">10</text><line x1="213.25" y1="639.2" x2="213.25" y2="645.2" stroke="#000" stroke-width="1.5"/><text x="213.25" y="664.4" text-anchor="middle" font-size="16.8">20</text><line x1="273.62" y1="639.2" x2="273.62" y2="645.2" stroke="#000" stroke-width="1.5"/><text x="273.62" y="664.4" text-anchor="middle" font-size="16.8">30</text><line x1="334" y1="639.2" x2="334" y2="645.2" stroke="#000" stroke-width="1.5"/><text x="334" y="664.4" text-anchor="middle" font-size="16.8">40</text><clipPath id="clipe"><rect x="92.5" y="484.3" width="241.5" height="155.9"/></clipPath><g clip-path="url(#clipe)" fill="none" stroke-width="1.75" stroke-linejoin="round" stroke-linecap="round"><path d="M92.5 616.1C93.2 616.07 95.23 615.9 96.7 615.9C98.17 615.9 99.95 616.35 101.3 616.1C102.65 615.85 103.62 615.17 104.8 614.4C105.98 613.63 107.22 612.57 108.4 611.5C109.58 610.43 110.73 609.67 111.9 608C113.07 606.33 114.33 603.07 115.4 601.5C116.47 599.93 117.13 599.28 118.3 598.6C119.47 597.92 121.13 597.98 122.4 597.4C123.67 596.82 124.83 595.58 125.9 595.1C126.97 594.62 127.73 594.3 128.8 594.5C129.87 594.7 131.23 596.48 132.3 596.3C133.37 596.12 134.13 594.47 135.2 593.4C136.27 592.33 137.53 590.58 138.7 589.9C139.87 589.22 141.03 589.22 142.2 589.3C143.37 589.38 144.63 589.72 145.7 590.4C146.77 591.08 147.62 592.13 148.6 593.4C149.58 594.67 150.62 596.75 151.6 598C152.58 599.25 153.53 600.6 154.5 600.9C155.47 601.2 156.33 601.25 157.4 599.8C158.47 598.35 159.83 594.73 160.9 592.2C161.97 589.67 162.83 585.67 163.8 584.6C164.77 583.53 165.72 584.4 166.7 585.8C167.68 587.2 168.43 592.85 169.7 593C170.97 593.15 172.75 589.3 174.3 586.7C175.85 584.1 177.45 580.9 179 577.4C180.55 573.9 182.25 568.82 183.6 565.7C184.95 562.58 185.93 561.6 187.1 558.7C188.27 555.8 189.53 551.6 190.6 548.3C191.67 545 192.62 542.22 193.5 538.9C194.38 535.58 195.17 531.7 195.9 528.4C196.63 525.1 197.32 518.7 197.9 519.1C198.48 519.5 198.87 524.97 199.4 530.8C199.93 536.63 200.57 546.9 201.1 554.1C201.63 561.3 202.07 567.73 202.6 574C203.13 580.27 203.62 586.8 204.3 591.7C204.98 596.6 205.82 599.52 206.7 603.4C207.58 607.28 208.53 611.32 209.6 615C210.67 618.68 211.83 622.77 213.1 625.5C214.37 628.23 215.73 629.93 217.2 631.4C218.67 632.87 220.63 634.3 221.9 634.3C223.17 634.3 223.83 633.63 224.8 631.4C225.77 629.17 226.83 624.98 227.7 620.9C228.57 616.82 229.27 610.8 230 606.9C230.73 603 231.42 598.08 232.1 597.5C232.78 596.92 233.47 600.48 234.1 603.4C234.73 606.32 235.22 611.5 235.9 615C236.58 618.5 237.23 621.97 238.2 624.4C239.17 626.83 240.33 628.2 241.7 629.6C243.07 631 244.65 631.95 246.4 632.8C248.15 633.65 249.93 634.12 252.2 634.7C254.47 635.28 256.2 635.83 260 636.3C263.8 636.77 268.33 637.17 275 637.5C281.67 637.83 295.83 638.17 300 638.3" stroke="#1010b8"/><path d="M92.5 613.2C93.2 613 95.62 612.48 96.7 612C97.78 611.52 97.83 611.37 99 610.3C100.17 609.23 102.33 606.57 103.7 605.6C105.07 604.63 106.13 604.4 107.2 604.5C108.27 604.6 109.23 605.62 110.1 606.2C110.97 606.78 111.52 608.58 112.4 608C113.28 607.42 114.42 604.75 115.4 602.7C116.38 600.65 117.33 596.97 118.3 595.7C119.27 594.43 120.23 594.72 121.2 595.1C122.17 595.48 123.13 597.02 124.1 598C125.07 598.98 126.02 600.32 127 601C127.98 601.68 129.02 602.3 130 602.1C130.98 601.9 131.93 600.97 132.9 599.8C133.87 598.63 134.83 596.57 135.8 595.1C136.77 593.63 137.53 591.97 138.7 591C139.87 590.03 141.43 589.88 142.8 589.3C144.17 588.72 145.73 587.5 146.9 587.5C148.07 587.5 148.83 588.13 149.8 589.3C150.77 590.47 151.73 592.75 152.7 594.5C153.67 596.25 154.72 598.82 155.6 599.8C156.48 600.78 157.12 601.47 158 600.4C158.88 599.33 159.83 596.13 160.9 593.4C161.97 590.67 163.43 585.17 164.4 584C165.37 582.83 165.88 585.07 166.7 586.4C167.52 587.73 168.22 591.95 169.3 592C170.38 592.05 171.78 589.33 173.2 586.7C174.62 584.07 176.25 579.7 177.8 576.2C179.35 572.7 181.03 568.62 182.5 565.7C183.97 562.78 185.35 560.83 186.6 558.7C187.85 556.57 188.93 555.8 190 552.9C191.07 550 192.12 545.18 193 541.3C193.88 537.42 194.43 533.68 195.3 529.6C196.17 525.52 197.42 517.97 198.2 516.8C198.98 515.63 199.42 518.92 200 522.6C200.58 526.28 201.13 533.07 201.7 538.9C202.27 544.73 202.82 551.08 203.4 557.6C203.98 564.12 204.65 572.32 205.2 578C205.75 583.68 206.07 587.47 206.7 591.7C207.33 595.93 208.13 599.52 209 603.4C209.87 607.28 210.83 611.6 211.9 615C212.97 618.4 214.23 621.55 215.4 623.8C216.57 626.05 217.63 627.43 218.9 628.5C220.17 629.57 221.83 630.5 223 630.2C224.17 629.9 224.92 628.83 225.9 626.7C226.88 624.57 228.02 619.83 228.9 617.4C229.78 614.97 230.43 612.5 231.2 612.1C231.97 611.7 232.72 613.15 233.5 615C234.28 616.85 234.92 620.87 235.9 623.2C236.88 625.53 238.03 627.48 239.4 629C240.77 630.52 242.35 631.42 244.1 632.3C245.85 633.18 248.08 633.77 249.9 634.3C251.72 634.83 253.32 635.17 255 635.5C256.68 635.83 257.22 636 260 636.3C262.78 636.6 267.8 637.03 271.7 637.3C275.6 637.57 279.52 637.77 283.4 637.9C287.28 638.03 291.12 638.03 295 638.1C298.88 638.17 302.52 638.23 306.7 638.3C310.88 638.37 315.22 638.45 320.1 638.5C324.98 638.55 333.35 638.58 336 638.6" stroke="#c82424"/><path d="M92.5 613.2C93.2 613.05 95.42 612.78 96.7 612.3C97.98 611.82 99.03 611.22 100.2 610.3C101.37 609.38 102.63 607.68 103.7 606.8C104.77 605.92 105.63 605.1 106.6 605C107.57 604.9 108.62 605.62 109.5 606.2C110.38 606.78 111.12 608.7 111.9 608.5C112.68 608.3 113.43 606.35 114.2 605C114.97 603.65 115.63 601.75 116.5 600.4C117.37 599.05 118.42 597.48 119.4 596.9C120.38 596.32 121.42 596.13 122.4 596.9C123.38 597.67 124.43 599.85 125.3 601.5C126.17 603.15 126.82 605.53 127.6 606.8C128.38 608.07 129.22 609.4 130 609.1C130.78 608.8 131.53 606.85 132.3 605C133.07 603.15 133.73 600.33 134.6 598C135.47 595.67 136.42 592.65 137.5 591C138.58 589.35 139.83 588.78 141.1 588.1C142.37 587.42 143.75 587.18 145.1 586.9C146.45 586.62 148.03 586 149.2 586.4C150.37 586.8 151.22 587.75 152.1 589.3C152.98 590.85 153.72 593.57 154.5 595.7C155.28 597.83 156.02 601.32 156.8 602.1C157.58 602.88 158.42 602.25 159.2 600.4C159.98 598.55 160.63 594.12 161.5 591C162.37 587.88 163.53 582.87 164.4 581.7C165.27 580.53 165.92 582.53 166.7 584C167.48 585.47 168.47 589 169.1 590.5C169.73 592 169.82 593.63 170.5 593C171.18 592.37 172.17 589.3 173.2 586.7C174.23 584.1 175.35 580.12 176.7 577.4C178.05 574.68 179.75 572.83 181.3 570.4C182.85 567.97 184.63 563.87 186 562.8C187.37 561.73 188.43 564.48 189.5 564C190.57 563.52 191.53 562.92 192.4 559.9C193.27 556.88 193.93 551.15 194.7 545.9C195.47 540.65 196.22 533.25 197 528.4C197.78 523.55 198.62 516.8 199.4 516.8C200.18 516.8 200.93 523.15 201.7 528.4C202.47 533.65 203.22 542.08 204 548.3C204.78 554.52 205.62 560.27 206.4 565.7C207.18 571.13 207.97 576.57 208.7 580.9C209.43 585.23 210.07 587.95 210.8 591.7C211.53 595.45 212.23 599.9 213.1 603.4C213.97 606.9 215.03 609.98 216 612.7C216.97 615.42 217.92 618.1 218.9 619.7C219.88 621.3 220.92 622.3 221.9 622.3C222.88 622.3 223.73 620.62 224.8 619.7C225.87 618.78 227.23 616.9 228.3 616.8C229.37 616.7 230.23 617.93 231.2 619.1C232.17 620.27 233.03 622.23 234.1 623.8C235.17 625.37 236.33 627.13 237.6 628.5C238.87 629.87 240.03 631.03 241.7 632C243.37 632.97 245.65 633.68 247.6 634.3C249.55 634.92 251.33 635.37 253.4 635.7C255.47 636.03 256.95 636.03 260 636.3C263.05 636.57 267.8 637.03 271.7 637.3C275.6 637.57 279.52 637.77 283.4 637.9C287.28 638.03 291.12 638.03 295 638.1C298.88 638.17 302.52 638.23 306.7 638.3C310.88 638.37 317.87 638.47 320.1 638.5" stroke="#111111"/></g><text x="213.45" y="689.7" text-anchor="middle" font-size="17" textLength="90.5" lengthAdjust="spacingAndGlyphs">Energy (eV)</text><text transform="translate(52.4 559) rotate(-90)" text-anchor="middle" font-size="17.5" textLength="82.5" lengthAdjust="spacingAndGlyphs">Reflectivity</text><line x1="213.9" y1="496.2" x2="230.2" y2="496.2" stroke="#111111" stroke-width="1.8"/><text x="239.3" y="502.6" font-size="16" textLength="84.4" lengthAdjust="spacingAndGlyphs">Doping (0%)</text><line x1="213.9" y1="515" x2="230.2" y2="515" stroke="#c82424" stroke-width="1.8"/><text x="239.3" y="521.4" font-size="16" textLength="84.4" lengthAdjust="spacingAndGlyphs">Doping (6%)</text><line x1="213.9" y1="533" x2="230.2" y2="533" stroke="#30d430" stroke-width="1.8"/><text x="239.3" y="539.4" font-size="16" textLength="92.6" lengthAdjust="spacingAndGlyphs">Doping (11%)</text><line x1="213.9" y1="550.8" x2="230.2" y2="550.8" stroke="#1010b8" stroke-width="1.8"/><text x="239.3" y="557.2" font-size="16" textLength="92.6" lengthAdjust="spacingAndGlyphs">Doping (17%)</text><rect x="98.9" y="491.9" width="27.5" height="26.3" fill="#fff" stroke="#000" stroke-width="1.5"/><text x="112.65" y="512.25" text-anchor="middle" font-size="17.5">(e)</text></g>
<g><rect x="430.4" y="485.3" width="241.1" height="153.9" fill="none" stroke="#000" stroke-width="1.5"/><line x1="424.4" y1="639.2" x2="430.4" y2="639.2" stroke="#000" stroke-width="1.5"/><text x="421.6" y="646.3" text-anchor="end" font-size="16.8">0</text><line x1="424.4" y1="608.42" x2="430.4" y2="608.42" stroke="#000" stroke-width="1.5"/><text x="421.6" y="615.52" text-anchor="end" font-size="16.8">1</text><line x1="424.4" y1="577.64" x2="430.4" y2="577.64" stroke="#000" stroke-width="1.5"/><text x="421.6" y="584.74" text-anchor="end" font-size="16.8">2</text><line x1="424.4" y1="546.86" x2="430.4" y2="546.86" stroke="#000" stroke-width="1.5"/><text x="421.6" y="553.96" text-anchor="end" font-size="16.8">3</text><line x1="424.4" y1="516.08" x2="430.4" y2="516.08" stroke="#000" stroke-width="1.5"/><text x="421.6" y="523.18" text-anchor="end" font-size="16.8">4</text><line x1="424.4" y1="485.3" x2="430.4" y2="485.3" stroke="#000" stroke-width="1.5"/><text x="421.6" y="492.4" text-anchor="end" font-size="16.8">5</text><line x1="430.4" y1="639.2" x2="430.4" y2="645.2" stroke="#000" stroke-width="1.5"/><text x="430.4" y="664.4" text-anchor="middle" font-size="16.8">0</text><line x1="490.67" y1="639.2" x2="490.67" y2="645.2" stroke="#000" stroke-width="1.5"/><text x="490.67" y="664.4" text-anchor="middle" font-size="16.8">10</text><line x1="550.95" y1="639.2" x2="550.95" y2="645.2" stroke="#000" stroke-width="1.5"/><text x="550.95" y="664.4" text-anchor="middle" font-size="16.8">20</text><line x1="611.23" y1="639.2" x2="611.23" y2="645.2" stroke="#000" stroke-width="1.5"/><text x="611.23" y="664.4" text-anchor="middle" font-size="16.8">30</text><line x1="671.5" y1="639.2" x2="671.5" y2="645.2" stroke="#000" stroke-width="1.5"/><text x="671.5" y="664.4" text-anchor="middle" font-size="16.8">40</text><clipPath id="clipf"><rect x="430.4" y="484.3" width="241.1" height="155.9"/></clipPath><g clip-path="url(#clipf)" fill="none" stroke-width="1.75" stroke-linejoin="round" stroke-linecap="round"><path d="M430.4 638.6C432.3 638.58 439.02 638.63 441.8 638.5C444.58 638.37 445.57 637.83 447.1 637.8C448.63 637.77 449.68 638.33 451 638.3C452.32 638.27 453.47 638.02 455 637.6C456.53 637.18 458.57 636.4 460.2 635.8C461.83 635.2 463.05 634.17 464.8 634C466.55 633.83 468.83 634.92 470.7 634.8C472.57 634.68 474.02 633.95 476 633.3C477.98 632.65 480.63 631.68 482.6 630.9C484.57 630.12 486.17 629.32 487.8 628.6C489.43 627.88 491.2 626.8 492.4 626.6C493.6 626.4 494.02 627.02 495 627.4C495.98 627.78 497.2 629.08 498.3 628.9C499.4 628.72 500.4 627.45 501.6 626.3C502.8 625.15 504.3 622.62 505.5 622C506.7 621.38 507.7 622.35 508.8 622.6C509.9 622.85 510.88 623.68 512.1 623.5C513.32 623.32 514.8 622.32 516.1 621.5C517.4 620.68 518.45 619.98 519.9 618.6C521.35 617.22 523.57 614.6 524.8 613.2C526.03 611.8 526.2 611.9 527.3 610.2C528.4 608.5 530.3 605.83 531.4 603C532.5 600.17 533.22 600.57 533.9 593.2C534.58 585.83 534.97 571.37 535.5 558.8C536.03 546.23 536.62 528.73 537.1 517.8C537.58 506.87 537.93 495.93 538.4 493.2C538.87 490.47 539.37 494.57 539.9 501.4C540.43 508.23 540.88 521.9 541.6 534.2C542.32 546.5 543.17 562.9 544.2 575.2C545.23 587.5 546.52 600.63 547.8 608C549.08 615.37 550.53 616.95 551.9 619.4C553.27 621.85 554.63 622.02 556 622.7C557.37 623.38 558.95 624.08 560.1 623.5C561.25 622.92 562.03 621.47 562.9 619.2C563.77 616.93 564.6 614.27 565.3 609.9C566 605.53 566.33 601.25 567.1 593C567.87 584.75 569.18 563.9 569.9 560.4C570.62 556.9 570.95 566.73 571.4 572C571.85 577.27 572.22 586 572.6 592C572.98 598 573.3 603.17 573.7 608C574.1 612.83 574.47 617 575 621C575.53 625 576.08 629.38 576.9 632C577.72 634.62 578.63 635.72 579.9 636.7C581.17 637.68 582.37 637.8 584.5 637.9C586.63 638 590.37 637.3 592.7 637.3C595.03 637.3 595.62 637.87 598.5 637.9C601.38 637.93 606.68 637.6 610 637.5C613.32 637.4 616.03 637.2 618.4 637.3C620.77 637.4 620.6 637.88 624.2 638.1C627.8 638.32 637.37 638.52 640 638.6" stroke="#1010b8"/><path d="M434 638.6C435.3 638.55 439.62 638.57 441.8 638.3C443.98 638.03 445.57 637.07 447.1 637C448.63 636.93 449.68 637.9 451 637.9C452.32 637.9 453.47 637.48 455 637C456.53 636.52 458.57 635.67 460.2 635C461.83 634.33 463.05 633.2 464.8 633C466.55 632.8 468.83 633.88 470.7 633.8C472.57 633.72 474.02 633.1 476 632.5C477.98 631.9 480.63 630.95 482.6 630.2C484.57 629.45 486.17 628.7 487.8 628C489.43 627.3 491.2 626.17 492.4 626C493.6 625.83 494.02 626.58 495 627C495.98 627.42 497.2 628.58 498.3 628.5C499.4 628.42 500.4 627.48 501.6 626.5C502.8 625.52 504.3 623.15 505.5 622.6C506.7 622.05 507.7 622.98 508.8 623.2C509.9 623.42 510.88 624.18 512.1 623.9C513.32 623.62 514.8 622.38 516.1 621.5C517.4 620.62 518.45 619.98 519.9 618.6C521.35 617.22 523.57 614.57 524.8 613.2C526.03 611.83 526.2 611.55 527.3 610.4C528.4 609.25 530.3 608.35 531.4 606.3C532.5 604.25 533.13 603.02 533.9 598.1C534.67 593.18 535.38 586.08 536 576.8C536.62 567.52 537.05 553.33 537.6 542.4C538.15 531.47 538.83 518.17 539.3 511.2C539.77 504.23 539.95 501.13 540.4 500.6C540.85 500.07 541.32 501.58 542 508C542.68 514.42 543.53 527.9 544.5 539.1C545.47 550.3 546.57 564.55 547.8 575.2C549.03 585.85 550.53 596.18 551.9 603C553.27 609.82 554.77 613.5 556 616.1C557.23 618.7 558.07 619.12 559.3 618.6C560.53 618.08 562.22 616.22 563.4 613C564.58 609.78 565.5 603.55 566.4 599.3C567.3 595.05 568.12 588.05 568.8 587.5C569.48 586.95 570.03 592.58 570.5 596C570.97 599.42 571.22 603.67 571.6 608C571.98 612.33 572.35 618 572.8 622C573.25 626 573.62 629.55 574.3 632C574.98 634.45 575.78 635.72 576.9 636.7C578.02 637.68 577.15 637.63 581 637.9C584.85 638.17 584.5 638.18 600 638.3C615.5 638.42 661.67 638.55 674 638.6" stroke="#c82424"/><path d="M434 638.6C435.3 638.55 439.62 638.57 441.8 638.3C443.98 638.03 445.57 637.07 447.1 637C448.63 636.93 449.68 637.9 451 637.9C452.32 637.9 453.47 637.48 455 637C456.53 636.52 458.57 635.62 460.2 635C461.83 634.38 463.05 633.37 464.8 633.3C466.55 633.23 468.83 634.63 470.7 634.6C472.57 634.57 474.02 633.75 476 633.1C477.98 632.45 480.63 631.47 482.6 630.7C484.57 629.93 486.17 629.25 487.8 628.5C489.43 627.75 491.2 626.42 492.4 626.2C493.6 625.98 494.02 626.75 495 627.2C495.98 627.65 497.2 628.97 498.3 628.9C499.4 628.83 500.4 627.85 501.6 626.8C502.8 625.75 504.3 623.2 505.5 622.6C506.7 622 507.7 622.98 508.8 623.2C509.9 623.42 510.88 624.18 512.1 623.9C513.32 623.62 514.8 622.38 516.1 621.5C517.4 620.62 518.45 619.9 519.9 618.6C521.35 617.3 523.43 615.07 524.8 613.7C526.17 612.33 526.87 611.5 528.1 610.4C529.33 609.3 531.1 608.87 532.2 607.1C533.3 605.33 533.88 603.75 534.7 599.8C535.52 595.85 536.33 590.23 537.1 583.4C537.87 576.57 538.62 567 539.3 558.8C539.98 550.6 540.55 541.58 541.2 534.2C541.85 526.82 542.65 518.47 543.2 514.5C543.75 510.53 543.95 509.85 544.5 510.4C545.05 510.95 545.82 512.47 546.5 517.8C547.18 523.13 547.83 533.67 548.6 542.4C549.37 551.13 550.15 561.73 551.1 570.2C552.05 578.67 553.15 586.98 554.3 593.2C555.45 599.42 557.05 605.3 558 607.5C558.95 609.7 559.28 607.37 560 606.4C560.72 605.43 561.53 602.8 562.3 601.7C563.07 600.6 563.92 599.42 564.6 599.8C565.28 600.18 565.8 601.35 566.4 604C567 606.65 567.62 612 568.2 615.7C568.78 619.4 569.32 623.28 569.9 626.2C570.48 629.12 571.02 631.35 571.7 633.2C572.38 635.05 573.03 636.48 574 637.3C574.97 638.12 564.58 637.88 577.5 638.1C590.42 638.32 639.17 638.52 651.5 638.6" stroke="#111111"/></g><text x="551.15" y="689.7" text-anchor="middle" font-size="17" textLength="90.5" lengthAdjust="spacingAndGlyphs">Energy (eV)</text><text transform="translate(404.6 558.65) rotate(-90)" text-anchor="middle" font-size="17.5" textLength="104" lengthAdjust="spacingAndGlyphs">Loss Function</text><line x1="548.2" y1="495.6" x2="564.9" y2="495.6" stroke="#111111" stroke-width="1.8"/><text x="574.1" y="502" font-size="16" textLength="84.4" lengthAdjust="spacingAndGlyphs">Doping (0%)</text><line x1="548.2" y1="514.2" x2="564.9" y2="514.2" stroke="#c82424" stroke-width="1.8"/><text x="574.1" y="520.6" font-size="16" textLength="84.4" lengthAdjust="spacingAndGlyphs">Doping (6%)</text><line x1="548.2" y1="532.4" x2="564.9" y2="532.4" stroke="#30d430" stroke-width="1.8"/><text x="574.1" y="538.8" font-size="16" textLength="92.6" lengthAdjust="spacingAndGlyphs">Doping (11%)</text><line x1="548.2" y1="550.4" x2="564.9" y2="550.4" stroke="#1010b8" stroke-width="1.8"/><text x="574.1" y="556.8" font-size="16" textLength="92.6" lengthAdjust="spacingAndGlyphs">Doping (17%)</text><rect x="437.9" y="492.7" width="23.9" height="25" fill="#fff" stroke="#000" stroke-width="1.5"/><text x="449.85" y="512.4" text-anchor="middle" font-size="17.5">(f)</text></g>
<g><rect x="259.9" y="735" width="241.8" height="153.4" fill="none" stroke="#000" stroke-width="1.5"/><line x1="253.9" y1="888.4" x2="259.9" y2="888.4" stroke="#000" stroke-width="1.5"/><text x="251" y="895.5" text-anchor="end" font-size="16.8">0.0</text><line x1="253.9" y1="857.72" x2="259.9" y2="857.72" stroke="#000" stroke-width="1.5"/><text x="251" y="864.82" text-anchor="end" font-size="16.8">0.5</text><line x1="253.9" y1="827.04" x2="259.9" y2="827.04" stroke="#000" stroke-width="1.5"/><text x="251" y="834.14" text-anchor="end" font-size="16.8">1.0</text><line x1="253.9" y1="796.36" x2="259.9" y2="796.36" stroke="#000" stroke-width="1.5"/><text x="251" y="803.46" text-anchor="end" font-size="16.8">1.5</text><line x1="253.9" y1="765.68" x2="259.9" y2="765.68" stroke="#000" stroke-width="1.5"/><text x="251" y="772.78" text-anchor="end" font-size="16.8">2.0</text><line x1="253.9" y1="735" x2="259.9" y2="735" stroke="#000" stroke-width="1.5"/><text x="251" y="742.1" text-anchor="end" font-size="16.8">2.5</text><line x1="259.9" y1="888.4" x2="259.9" y2="894.4" stroke="#000" stroke-width="1.5"/><text x="259.9" y="913.6" text-anchor="middle" font-size="16.8">0</text><line x1="320.35" y1="888.4" x2="320.35" y2="894.4" stroke="#000" stroke-width="1.5"/><text x="320.35" y="913.6" text-anchor="middle" font-size="16.8">10</text><line x1="380.8" y1="888.4" x2="380.8" y2="894.4" stroke="#000" stroke-width="1.5"/><text x="380.8" y="913.6" text-anchor="middle" font-size="16.8">20</text><line x1="441.25" y1="888.4" x2="441.25" y2="894.4" stroke="#000" stroke-width="1.5"/><text x="441.25" y="913.6" text-anchor="middle" font-size="16.8">30</text><line x1="501.7" y1="888.4" x2="501.7" y2="894.4" stroke="#000" stroke-width="1.5"/><text x="501.7" y="913.6" text-anchor="middle" font-size="16.8">40</text><clipPath id="clipg"><rect x="259.9" y="734" width="241.8" height="155.4"/></clipPath><g clip-path="url(#clipg)" fill="none" stroke-width="1.75" stroke-linejoin="round" stroke-linecap="round"><path d="M259.9 780.2C260.63 780.2 262.85 780.2 264.3 780.2C265.75 780.2 267.3 780.57 268.6 780.2C269.9 779.83 271 778.87 272.1 778C273.2 777.13 274.25 776.02 275.2 775C276.15 773.98 277 773.15 277.8 771.9C278.6 770.65 279.27 769.03 280 767.5C280.73 765.97 281.47 763.93 282.2 762.7C282.93 761.47 283.67 760.38 284.4 760.1C285.13 759.82 285.8 760.57 286.6 761C287.4 761.43 288.25 762.2 289.2 762.7C290.15 763.2 291.35 763.27 292.3 764C293.25 764.73 294.1 765.93 294.9 767.1C295.7 768.27 296.37 769.77 297.1 771C297.83 772.23 298.65 773.62 299.3 774.5C299.95 775.38 300.27 775.72 301 776.3C301.73 776.88 302.88 777.13 303.7 778C304.52 778.87 305.17 780.03 305.9 781.5C306.63 782.97 307.3 784.75 308.1 786.8C308.9 788.85 309.9 791.85 310.7 793.8C311.5 795.75 312.07 796.72 312.9 798.5C313.73 800.28 314.6 802.93 315.7 804.5C316.8 806.07 318.38 807.65 319.5 807.9C320.62 808.15 321.45 806.57 322.4 806C323.35 805.43 324.33 804.43 325.2 804.5C326.07 804.57 326.8 804.82 327.6 806.4C328.4 807.98 329.12 811.13 330 814C330.88 816.87 331.95 821.85 332.9 823.6C333.85 825.35 334.75 824.58 335.7 824.5C336.65 824.42 337.65 823.1 338.6 823.1C339.55 823.1 340.45 823.47 341.4 824.5C342.35 825.53 343.18 827.55 344.3 829.3C345.42 831.05 347.02 833.05 348.1 835C349.18 836.95 349.9 839 350.8 841C351.7 843 352.55 845.17 353.5 847C354.45 848.83 355.5 850.33 356.5 852C357.5 853.67 358.5 855.17 359.5 857C360.5 858.83 361.4 860.95 362.5 863C363.6 865.05 364.98 869.1 366.1 869.3C367.22 869.5 368 866.25 369.2 864.2C370.4 862.15 371.85 859.22 373.3 857C374.75 854.78 376.37 852.95 377.9 850.9C379.43 848.85 380.88 846.58 382.5 844.7C384.12 842.82 386.07 841.3 387.6 839.6C389.13 837.9 390.6 834.83 391.7 834.5C392.8 834.17 393.35 835.22 394.2 837.6C395.05 839.98 395.85 845.48 396.8 848.8C397.75 852.12 398.88 856.65 399.9 857.5C400.92 858.35 401.72 855.52 402.9 853.9C404.08 852.28 405.47 849.5 407 847.8C408.53 846.1 410.23 844.88 412.1 843.7C413.97 842.52 416.05 841.57 418.2 840.7C420.35 839.83 421.37 839.37 425 838.5C428.63 837.63 434.17 836.33 440 835.5C445.83 834.67 456.67 833.83 460 833.5" stroke="#1010b8"/><path d="M259.9 776.3C260.48 776.18 262.23 776.12 263.4 775.6C264.57 775.08 265.73 774.33 266.9 773.2C268.07 772.07 269.23 769.97 270.4 768.8C271.57 767.63 272.88 766.27 273.9 766.2C274.92 766.13 275.7 767.6 276.5 768.4C277.3 769.2 277.97 771.22 278.7 771C279.43 770.78 280.17 768.55 280.9 767.1C281.63 765.65 282.37 763.55 283.1 762.3C283.83 761.05 284.57 759.68 285.3 759.6C286.03 759.52 286.77 760.48 287.5 761.8C288.23 763.12 288.98 765.53 289.7 767.5C290.42 769.47 291.08 771.85 291.8 773.6C292.52 775.35 293.27 776.97 294 778C294.73 779.03 295.47 779.8 296.2 779.8C296.93 779.8 297.67 778.67 298.4 778C299.13 777.33 299.87 776.17 300.6 775.8C301.33 775.43 302.07 775.43 302.8 775.8C303.53 776.17 304.27 776.75 305 778C305.73 779.25 306.4 781.25 307.2 783.3C308 785.35 308.93 787.97 309.8 790.3C310.67 792.63 311.52 795.12 312.4 797.3C313.28 799.48 314.22 801.58 315.1 803.4C315.98 805.22 316.88 807.1 317.7 808.2C318.52 809.3 319.22 809.58 320 810C320.78 810.42 321.45 811.45 322.4 810.7C323.35 809.95 324.83 806.22 325.7 805.5C326.57 804.78 326.88 804.98 327.6 806.4C328.32 807.82 329.12 811.3 330 814C330.88 816.7 331.95 821 332.9 822.6C333.85 824.2 334.75 823.75 335.7 823.6C336.65 823.45 337.65 821.55 338.6 821.7C339.55 821.85 340.5 823.28 341.4 824.5C342.3 825.72 343.05 827.17 344 829C344.95 830.83 346.1 833.33 347.1 835.5C348.1 837.67 349.2 839.93 350 842C350.8 844.07 351.1 846.22 351.9 847.9C352.7 849.58 353.85 850.6 354.8 852.1C355.75 853.6 356.65 855.3 357.6 856.9C358.55 858.5 359.55 860.18 360.5 861.7C361.45 863.22 362.37 864.48 363.3 866C364.23 867.52 365.03 870.6 366.1 870.8C367.17 871 368.5 868.82 369.7 867.2C370.9 865.58 371.93 863.13 373.3 861.1C374.67 859.07 376.37 857.05 377.9 855C379.43 852.95 380.97 850.52 382.5 848.8C384.03 847.08 385.65 845.8 387.1 844.7C388.55 843.6 390.1 842.2 391.2 842.2C392.3 842.2 392.85 843.25 393.7 844.7C394.55 846.15 395.37 849.37 396.3 850.9C397.23 852.43 398.2 853.98 399.3 853.9C400.4 853.82 401.45 851.75 402.9 850.4C404.35 849.05 406.12 847.17 408 845.8C409.88 844.43 412.2 843.2 414.2 842.2C416.2 841.2 416.97 840.78 420 839.8C423.03 838.82 428.27 837.18 432.4 836.3C436.53 835.42 440.67 834.98 444.8 834.5C448.93 834.02 453.07 833.7 457.2 833.4C461.33 833.1 464.53 832.97 469.6 832.7C474.67 832.43 482.03 832.07 487.6 831.8C493.17 831.53 500.43 831.22 503 831.1" stroke="#c82424"/><path d="M259.9 776.3C260.48 776.22 262.23 776.25 263.4 775.8C264.57 775.35 265.73 774.62 266.9 773.6C268.07 772.58 269.3 770.78 270.4 769.7C271.5 768.62 272.55 767.1 273.5 767.1C274.45 767.1 275.3 768.9 276.1 769.7C276.9 770.5 277.57 772.27 278.3 771.9C279.03 771.53 279.78 769.03 280.5 767.5C281.22 765.97 281.88 763.93 282.6 762.7C283.32 761.47 284.07 760.25 284.8 760.1C285.53 759.95 286.27 760.57 287 761.8C287.73 763.03 288.47 765.23 289.2 767.5C289.93 769.77 290.67 772.92 291.4 775.4C292.13 777.88 292.87 780.87 293.6 782.4C294.33 783.93 295.07 784.88 295.8 784.6C296.53 784.32 297.27 782.38 298 780.7C298.73 779.02 299.47 776.12 300.2 774.5C300.93 772.88 301.68 771.58 302.4 771C303.12 770.42 303.78 770.42 304.5 771C305.22 771.58 305.97 772.75 306.7 774.5C307.43 776.25 308.08 779.02 308.9 781.5C309.72 783.98 310.75 786.9 311.6 789.4C312.45 791.9 313.15 794.3 314 796.5C314.85 798.7 315.78 800.47 316.7 802.6C317.62 804.73 318.63 807.72 319.5 809.3C320.37 810.88 321.1 812.1 321.9 812.1C322.7 812.1 323.43 810.65 324.3 809.3C325.17 807.95 326.32 804.48 327.1 804C327.88 803.52 328.35 804.73 329 806.4C329.65 808.07 330.28 811.45 331 814C331.72 816.55 332.52 820.1 333.3 821.7C334.08 823.3 334.82 823.77 335.7 823.6C336.58 823.43 337.72 820.87 338.6 820.7C339.48 820.53 340.13 821.33 341 822.6C341.87 823.87 342.78 826.23 343.8 828.3C344.82 830.37 346.07 832.77 347.1 835C348.13 837.23 349.03 839.63 350 841.7C350.97 843.77 351.95 846.05 352.9 847.4C353.85 848.75 354.75 849.02 355.7 849.8C356.65 850.58 357.72 850.92 358.6 852.1C359.48 853.28 360.22 854.98 361 856.9C361.78 858.82 362.52 861.53 363.3 863.6C364.08 865.67 364.88 868.18 365.7 869.3C366.52 870.42 367.1 870.65 368.2 870.3C369.3 869.95 370.93 868.4 372.3 867.2C373.67 866 375.05 864.8 376.4 863.1C377.75 861.4 378.88 859.03 380.4 857C381.92 854.97 383.97 852.27 385.5 850.9C387.03 849.53 388.4 848.8 389.6 848.8C390.8 848.8 391.67 850.22 392.7 850.9C393.73 851.58 394.78 852.73 395.8 852.9C396.82 853.07 397.62 852.75 398.8 851.9C399.98 851.05 401.37 849.17 402.9 847.8C404.43 846.43 406.12 844.88 408 843.7C409.88 842.52 412.2 841.45 414.2 840.7C416.2 839.95 416.97 839.97 420 839.2C423.03 838.43 428.27 836.88 432.4 836.1C436.53 835.32 440.67 834.95 444.8 834.5C448.93 834.05 453.07 833.7 457.2 833.4C461.33 833.1 464.53 832.97 469.6 832.7C474.67 832.43 484.6 831.95 487.6 831.8" stroke="#111111"/></g><text x="381" y="938.9" text-anchor="middle" font-size="17" textLength="90.5" lengthAdjust="spacingAndGlyphs">Energy (eV)</text><text transform="translate(219.4 807.95) rotate(-90)" text-anchor="middle" font-size="17.5" textLength="124.8" lengthAdjust="spacingAndGlyphs">Refractive Index</text><line x1="378.6" y1="744.2" x2="394.9" y2="744.2" stroke="#111111" stroke-width="1.8"/><text x="404.1" y="750.6" font-size="16" textLength="84.4" lengthAdjust="spacingAndGlyphs">Doping (0%)</text><line x1="378.6" y1="762.6" x2="394.9" y2="762.6" stroke="#c82424" stroke-width="1.8"/><text x="404.1" y="769" font-size="16" textLength="84.4" lengthAdjust="spacingAndGlyphs">Doping (6%)</text><line x1="378.6" y1="781" x2="394.9" y2="781" stroke="#30d430" stroke-width="1.8"/><text x="404.1" y="787.4" font-size="16" textLength="92.6" lengthAdjust="spacingAndGlyphs">Doping (11%)</text><line x1="378.6" y1="799.4" x2="394.9" y2="799.4" stroke="#1010b8" stroke-width="1.8"/><text x="404.1" y="805.8" font-size="16" textLength="92.6" lengthAdjust="spacingAndGlyphs">Doping (17%)</text><rect x="265.8" y="856" width="28.5" height="26.4" fill="#fff" stroke="#000" stroke-width="1.5"/><text x="280.05" y="876.4" text-anchor="middle" font-size="17.5">(g)</text></g>
</svg>
</body></html>
